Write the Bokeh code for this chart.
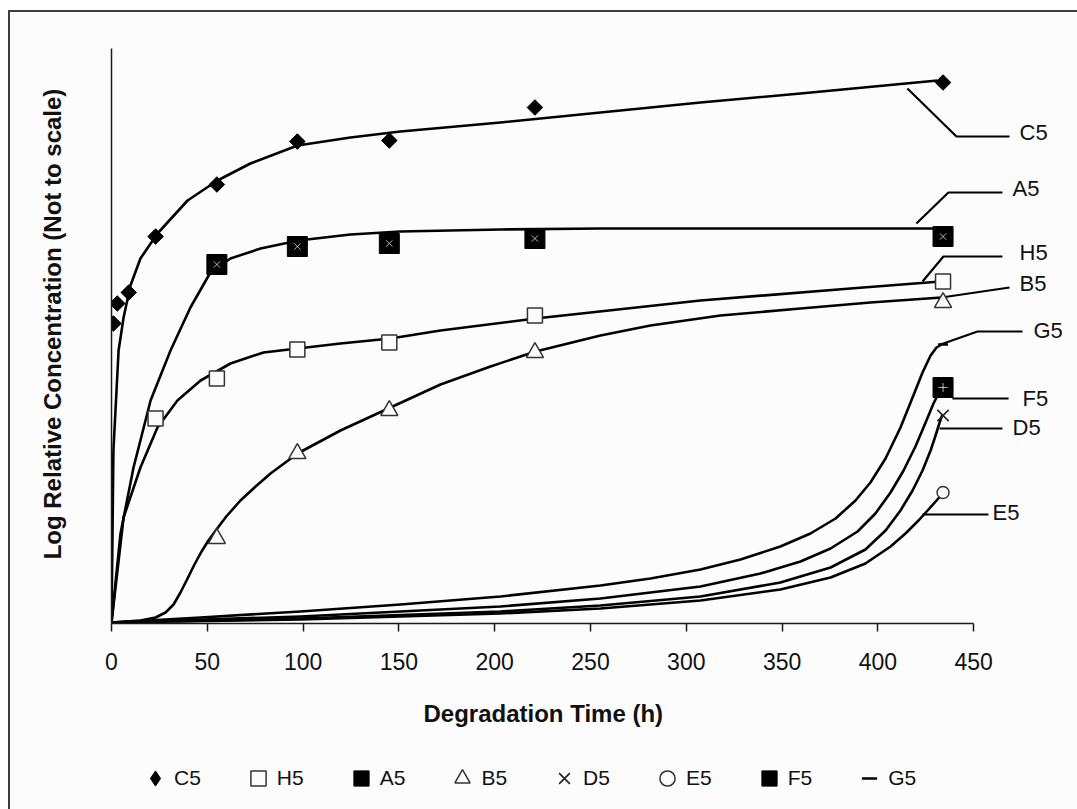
import math
from bokeh.plotting import figure
from bokeh.layouts import column
from bokeh.models import Range1d, FixedTicker, Legend, LegendItem, Title
from bokeh.embed import file_html
from bokeh.resources import INLINE
from bokeh.core.properties import value

FONT = "Liberation Sans"

# ---------------- data (degradation time in h, relative log concentration, arbitrary units) -------------
x_ticks = [0, 50, 100, 150, 200, 250, 300, 350, 400, 450]

t_c5 = [1, 3, 9, 23, 55, 97, 145, 221, 434]
c5 = [300, 320, 331, 387, 439, 482, 483, 516, 541]

t_a5 = [55, 97, 145, 221, 434]
a5 = [359, 377, 380, 385, 387]

t_h5 = [23, 55, 97, 145, 221, 434]
h5 = [205, 245, 274, 281, 308, 342]

t_b5 = [55, 97, 145, 221, 434]
b5 = [85, 170, 213, 271, 321]

t_last = [434]
d5 = [208]
e5 = [131]
f5 = [236]
g5 = [279]

# fitted (hand drawn) trend curves
c5_fit_t = [0, 1.0, 3.7, 6.3, 9.9, 15.1, 24.0, 39.7, 55.3, 72.5, 97.1, 124.7, 150.8, 203.0, 255.2, 307.4, 359.6, 431.1]
c5_fit_y = [1, 173, 273, 306, 338, 365, 390, 423, 443, 460, 478, 486, 492, 501, 511, 521, 530, 543]

a5_fit_t = [0, 4.7, 11.5, 20.4, 30.8, 41.2, 51.6, 62.1, 77.8, 97.6, 124.7, 150.8, 203.0, 255.2, 429.0]
a5_fit_y = [1, 90, 156, 223, 273, 316, 351, 365, 375, 383, 389, 392, 394, 395, 395]

h5_fit_t = [0, 6.3, 15.1, 24.0, 34.4, 46.5, 62.1, 79.3, 97.1, 119.5, 145.6, 171.7, 221.3, 307.4, 385.7, 432.7]
h5_fit_y = [1, 106, 156, 196, 223, 243, 260, 271, 275, 280, 285, 293, 305, 323, 335, 342]

b5_fit_t = [0, 15.1, 23.0, 28.2, 32.4, 36.0, 39.7, 43.3, 47.0, 50.6, 54.8, 59.9, 67.3, 75.2, 83.0, 97.1,
            119.5, 145.6, 171.7, 197.8, 221.3, 255.2, 281.3, 317.8, 359.6, 396.1, 433.2]
b5_fit_y = [1, 3, 6, 11, 19, 31, 45, 59, 72, 83, 94, 107, 123, 137, 150, 170,
            193, 216, 239, 257, 272, 288, 298, 308, 315, 321, 326]

g5_fit_t = [0, 46.5, 98.6, 150.8, 203.0, 255.2, 281.3, 307.4, 328.3, 349.1, 364.8, 377.9, 388.3, 396.1,
            404.0, 411.8, 418.1, 423.3, 427.5, 430.6, 433.2]
g5_fit_y = [1, 6, 12, 19, 27, 38, 45, 54, 64, 77, 90, 105, 123, 141, 165, 196, 226, 251, 268, 276, 279]

f5_fit_t = [0, 98.6, 203.0, 255.2, 307.4, 338.7, 359.6, 375.3, 389.4, 398.7, 406.6, 413.4, 419.6, 424.9,
            429.0, 432.2, 434.2]
f5_fit_y = [1, 7, 17, 25, 37, 50, 62, 75, 92, 110, 131, 153, 177, 201, 220, 232, 236]

d5_fit_t = [0, 98.6, 203.0, 255.2, 307.4, 349.1, 375.3, 393.5, 404.0, 411.8, 418.1, 423.3, 427.5, 430.1,
            432.2, 433.7]
d5_fit_y = [1, 5, 12, 18, 27, 41, 56, 74, 93, 113, 133, 153, 173, 188, 201, 209]

e5_fit_t = [0, 98.6, 203.0, 255.2, 307.4, 349.1, 375.3, 393.5, 406.6, 414.4, 421.2, 426.4, 430.6, 433.7]
e5_fit_y = [1, 4, 10, 15, 23, 34, 46, 60, 77, 90, 103, 114, 123, 130]

# series call-out labels and their leader lines
label_names = ["C5", "A5", "H5", "B5", "G5", "F5", "D5", "E5"]
label_x = [473.9, 470.3, 473.9, 473.9, 481.2, 475.5, 470.3, 459.8]
label_y = [491, 435, 371, 340, 293, 225, 196, 111]
leader_xs = [[415.4, 441.0, 468.7], [420.1, 436.8, 465.0], [423.3, 434.2, 465.0],
             [433.2, 468.7], [432.7, 452.0, 475.5], [438.9, 468.2], [432.2, 465.0], [423.3, 457.7]]
leader_ys = [[535, 487, 487], [400, 431, 431], [342, 367, 367],
             [326, 336], [279, 292, 292], [225, 225], [195, 195], [109, 109]]

legend_names = ["C5", "H5", "A5", "B5", "D5", "E5", "F5", "G5"]

# ---------------- main figure -------------
BG = "#fcfcfc"
p = figure(width=1067, height=745, x_range=Range1d(0, 500), y_range=Range1d(0, 599),
           output_backend="svg", toolbar_location=None,
           min_border_left=101, min_border_right=8, min_border_top=12, min_border_bottom=134,
           background_fill_color=BG, border_fill_color=BG)
p.grid.visible = False
p.outline_line_color = None

xa = p.xaxis[0]
xa.ticker = FixedTicker(ticks=x_ticks)
xa.bounds = (0, 450)
xa.axis_line_color = "#1a1a1a"
xa.axis_line_width = 1.5
xa.major_tick_line_color = "#1a1a1a"
xa.major_tick_line_width = 1.5
xa.major_tick_out = 8
xa.major_tick_in = 0
xa.minor_tick_line_color = None
xa.major_label_standoff = 21
xa.major_label_text_font = FONT
xa.major_label_text_font_size = "23px"
xa.major_label_text_color = "#111111"

ya = p.yaxis[0]
ya.ticker = FixedTicker(ticks=[])
ya.bounds = (0, 575)
ya.major_label_text_font_size = "0px"
ya.minor_tick_line_color = None
ya.major_tick_line_color = None
ya.major_tick_out = 0
ya.major_tick_in = 0
ya.axis_line_color = "#1a1a1a"
ya.axis_line_width = 1.5
ya.axis_label = "Log Relative Concentration (Not to scale)"
ya.axis_label_standoff = 46
ya.axis_label_text_font = FONT
ya.axis_label_text_font_style = "bold"
ya.axis_label_text_font_size = "24px"
ya.axis_label_text_color = "#111111"

# curves
for tt, yy in [(c5_fit_t, c5_fit_y), (a5_fit_t, a5_fit_y), (h5_fit_t, h5_fit_y), (b5_fit_t, b5_fit_y),
               (g5_fit_t, g5_fit_y), (f5_fit_t, f5_fit_y), (d5_fit_t, d5_fit_y), (e5_fit_t, e5_fit_y)]:
    p.line(tt, yy, line_color="black", line_width=2.6, line_join="round")

# leader lines + call-out labels
p.multi_line(xs=leader_xs, ys=leader_ys, line_color="black", line_width=2.2)
p.text(x=label_x, y=label_y, text=label_names, text_font=value(FONT), text_font_size="22px",
       text_baseline="middle", text_align="left", text_color="#111111")

# marker styles per series
styles = {
    "C5": dict(marker="square", angle=math.pi / 4, size=11, fill_color="black", line_color="black"),
    "H5": dict(marker="square", size=15, fill_color=BG, line_color="#333333", line_width=1.5),
    "A5": dict(marker="square", size=20, fill_color="black", line_color="black"),
    "B5": dict(marker="triangle", size=17, fill_color=BG, line_color="#333333", line_width=1.5),
    "D5": dict(marker="x", size=16, line_color="#222222", line_width=1.6),
    "E5": dict(marker="circle", size=12, fill_color=BG, line_color="#333333", line_width=1.5),
    "F5": dict(marker="square", size=20, fill_color="black", line_color="black"),
    "G5": dict(marker="dash", size=10, line_color="black", line_width=2.5),
}
series = {"C5": (t_c5, c5), "H5": (t_h5, h5), "A5": (t_a5, a5), "B5": (t_b5, b5),
          "D5": (t_last, d5), "E5": (t_last, e5), "F5": (t_last, f5), "G5": (t_last, g5)}

for name in legend_names:
    tt, yy = series[name]
    p.scatter(tt, yy, **styles[name])
p.scatter(t_a5, a5, marker="x", size=9, line_color="white", line_width=1, line_alpha=0.7)
p.scatter(t_last, f5, marker="cross", size=9, line_color="white", line_width=1, line_alpha=0.7)

# x axis title (below the tick labels)
p.add_layout(Title(text="Degradation Time (h)", align="left", offset=312, standoff=50,
                   text_font=FONT, text_font_style="bold", text_font_size="24px",
                   text_color="#111111"), "below")

# ---------------- legend strip -------------
q = figure(width=1067, height=52, x_range=Range1d(0, 1), y_range=Range1d(0, 1),
           output_backend="svg", toolbar_location=None, x_axis_type=None, y_axis_type=None,
           min_border=0, background_fill_color=BG, border_fill_color=BG)
q.grid.visible = False
q.outline_line_color = None
legend_styles = dict(styles)
legend_styles["C5"] = dict(marker="diamond", size=11, fill_color="black", line_color="black")
items = []
for name in legend_names:
    tt, yy = series[name]
    r = q.scatter(tt, yy, visible=False, **legend_styles[name])
    items.append(LegendItem(label=name, renderers=[r]))

legend = Legend(items=items, orientation="horizontal", location=(25, 12), glyph_width=38, glyph_height=38,
                label_standoff=0, spacing=38, padding=0, margin=0, border_line_color=None,
                background_fill_alpha=0, label_text_font=FONT, label_text_font_size="21px",
                label_text_color="#111111")
q.add_layout(legend)

layout = column(p, q, spacing=0, margin=(10, 0, 0, 8),
                styles={"border-left": "2px solid #3c3c3c", "border-top": "2px solid #3c3c3c",
                        "background-color": BG})

open("out.html", "w").write(file_html(layout, INLINE))
